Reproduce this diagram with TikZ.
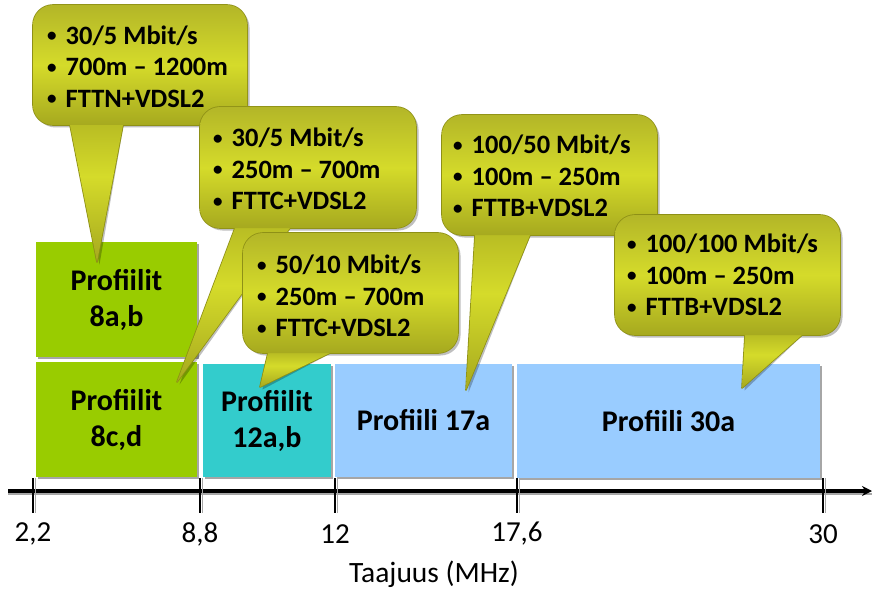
\documentclass[tikz,border=0pt]{standalone}
\usepackage{fontspec}
\setmainfont{Carlito}
\usepackage{xcolor}
\usepackage{tikz}
\usetikzlibrary{calc}
\usetikzlibrary{shadows}
\usetikzlibrary{arrows.meta}

\definecolor{vertprof}{HTML}{99CC00}
\definecolor{turqprof}{HTML}{33CCCC}
\definecolor{bleuprof}{HTML}{99CCFF}
\definecolor{bulhaut}{HTML}{B3B628}
\definecolor{bulmilieu}{HTML}{D5DB2A}
\definecolor{bulbas}{HTML}{A6A91F}
\definecolor{bulbord}{HTML}{8E9016}

\newcommand{\puce}{\raisebox{2.5pt}{\fontsize{19}{19}\selectfont\textbullet}\hspace{9pt}}
% #1,#2 coin haut gauche, #3,#4 coin bas droit, #5,#6 base de la pointe, #7 pointe
\newcommand{\bulle}[7]{%
	\coordinate (pA) at ($(#7)!1.25!(#5,#4)$);
	\coordinate (pB) at ($(#7)!1.25!(#6,#4)$);
	\fill[bulleombre,rounded corners=20pt] (#1,#2) rectangle (#3,#4);
	\fill[bulleombre] (pA) -- (#7) -- (pB) -- cycle;
	\draw[bulletrait,rounded corners=20pt] (#1,#2) rectangle (#3,#4);
	\draw[bulletrait] (pA) -- (#7) -- (pB) -- cycle;
	\shade[bullepointe] (pA) -- (#7) -- (pB) -- cycle;
	\shade[bullecorps,rounded corners=20pt] (#1,#2) rectangle (#3,#4);
}

\begin{document}
\begin{tikzpicture}[x=1pt,y=-1pt,
	prof/.style={inner sep=0pt,align=center,font=\fontsize{30}{36}\selectfont\bfseries,
		drop shadow={shadow xshift=2pt,shadow yshift=-2pt,fill=black,opacity=0.35}},
	bulletxt/.style={inner sep=0pt,anchor=west,align=left,font=\fontsize{26.5}{31.5}\selectfont\bfseries},
	bulleombre/.style={fill=black,opacity=0.25,xshift=2.5pt,yshift=-2.5pt},
	bulletrait/.style={draw=bulbord,line width=1.6pt,line join=round},
	bullepointe/.style={top color=bulbas,bottom color=bulbas,middle color=bulmilieu},
	bullecorps/.style={top color=bulhaut,bottom color=bulbas,middle color=bulmilieu},
	axe/.style={line width=3.2pt,-{Stealth[length=10pt,width=10pt]}},
	graduation/.style={line width=1.2pt},
	ombreaxe/.style={line width=1.5pt,black!35},
	axetxt/.style={font=\fontsize{29}{32}\selectfont}]
\useasboundingbox (0,0) rectangle (872,591);

%Profils
\node[prof,fill=vertprof,minimum width=161,minimum height=115] (P8ab) at (116.5,299.5) {Profiilit\\8a,b};
\node[prof,fill=vertprof,minimum width=161,minimum height=115] (P8cd) at (116.5,419.5) {Profiilit\\8c,d};
\node[prof,fill=turqprof,minimum width=128,minimum height=113] (P12) at (267,420.5) {Profiilit\\12a,b};
\node[prof,fill=bleuprof,minimum width=177,minimum height=113] (P17) at (423.5,420.5) {Profiili 17a};
\node[prof,fill=bleuprof,minimum width=303,minimum height=114] (P30) at (668.5,421) {Profiili 30a};

%Axe des frequences
\coordinate (A0) at (8,491);
\coordinate (A1) at (872,491);
\draw[ombreaxe] ([yshift=-3pt]A0) -- ([yshift=-3pt]A1);
\draw[axe] (A0) -- (A1);
\foreach \x/\lab in {33/{2,2},200/{8,8},335/12,517/{17,6},823/30}{
	\coordinate (T\x) at (\x,478);
	\draw[ombreaxe] ([xshift=2.5pt]T\x) -- ++(0,35);
	\draw[graduation] (T\x) -- ++(0,35);
	\node[axetxt] (N\x) at (\x,534) {\lab};
}
\node[font=\fontsize{29.5}{33}\selectfont] (titre) at (434,574) {Taajuus (MHz)};

%Bulles
\bulle{33}{5}{247}{125}{70}{123}{97,262}
\node[bulletxt] (B1) at (47,66.5) {\puce 30/5 Mbit/s\\\puce 700m -- 1200m\\\puce FTTN+VDSL2};
\bulle{200}{107}{416}{228}{235}{290}{177,382}
\node[bulletxt] (B2) at (213,169) {\puce 30/5 Mbit/s\\\puce 250m -- 700m\\\puce FTTC+VDSL2};
\bulle{243}{233}{458}{353}{268}{330}{260,387}
\node[bulletxt] (B3) at (257,296) {\puce 50/10 Mbit/s\\\puce 250m -- 700m\\\puce FTTC+VDSL2};
\bulle{442}{115}{657}{235}{475}{530}{466,390}
\node[bulletxt] (B4) at (453,176) {\puce 100/50 Mbit/s\\\puce 100m -- 250m\\\puce FTTB+VDSL2};
\bulle{615}{215}{840}{335}{745}{802}{742,388}
\node[bulletxt] (B5) at (627,275) {\puce 100/100 Mbit/s\\\puce 100m -- 250m\\\puce FTTB+VDSL2};

\end{tikzpicture}
\end{document}
